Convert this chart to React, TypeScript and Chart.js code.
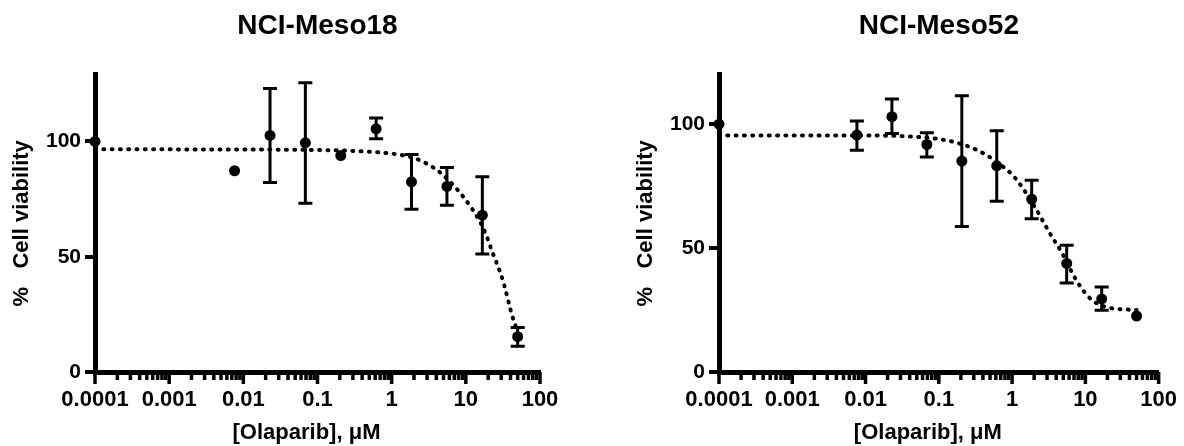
import React, { useEffect, useRef } from 'react';
import { Chart, registerables } from 'chart.js';

Chart.register(...registerables);

const FONT = '"Liberation Sans", Arial, sans-serif';

// Shared concentrations (µM), 3-fold dilutions plus the untreated control plotted at 0.0001
const concentrations = [0.0001, 0.00762, 0.0229, 0.0686, 0.206, 0.617, 1.85, 5.56, 16.7, 50];

// NCI-Meso18
const meso18Title = 'NCI-Meso18';
const meso18Viability = [100, 87.3, 102.6, 99.4, 93.9, 105.5, 82.5, 80.5, 68, 15.3];
const meso18ErrHigh = [null, null, 123, 125.5, null, 110.2, 94.3, 88.7, 84.7, 19.3];
const meso18ErrLow = [null, null, 82.2, 73.2, null, 101.2, 70.6, 72.3, 51.2, 11.2];
const meso18FitX = [0.0001, 0.01, 0.1, 0.3, 0.7, 1.3, 2, 2.8, 3.6, 4.6, 6, 7.6, 9.5, 12, 15, 18.5, 22.5, 27, 30, 33, 36, 40, 44, 48];
const meso18FitY = [96.6, 96.5, 96.3, 95.9, 95.2, 94.2, 92.8, 90.8, 88.8, 86.3, 82.8, 79.3, 75.5, 71, 66, 60, 52.5, 46, 42, 37.5, 33, 27, 22.5, 19];
const meso18YMax = 129;

// NCI-Meso52
const meso52Title = 'NCI-Meso52';
const meso52Viability = [100, 95.6, 103, 91.8, 85.1, 83.2, 69.7, 43.8, 29.5, 22.6];
const meso52ErrHigh = [null, 101.3, 110.2, 96.5, 111.5, 97.3, 77.4, 51.1, 34.3, null];
const meso52ErrLow = [null, 89.5, 96.2, 86.8, 58.7, 68.9, 61.8, 35.9, 24.9, null];
const meso52FitX = [0.0001, 0.01, 0.03, 0.1, 0.18, 0.33, 0.6, 1.1, 2, 3.2, 4.9, 7.7, 12.3, 18, 23, 50];
const meso52FitY = [95.4, 95.4, 95.2, 94, 92.4, 89.6, 85, 78.3, 67, 56.5, 47.5, 36.5, 29, 26.5, 25.7, 25];
const meso52YMax = 120;

// Axes
const xMajorTicks = [0.0001, 0.001, 0.01, 0.1, 1, 10, 100];
const xTickLabels = ['0.0001', '0.001', '0.01', '0.1', '1', '10', '100'];
const yTicks = [0, 50, 100];
const xAxisTitle = '[Olaparib], μM';
const yAxisTitle = '%   Cell viability';

function buildXTicks() {
  const out: { value: number; major: boolean }[] = [];
  xMajorTicks.forEach((d, i) => {
    out.push({ value: d, major: true });
    if (i < xMajorTicks.length - 1) {
      for (let m = 2; m <= 9; m++) out.push({ value: d * m, major: false });
    }
  });
  return out;
}

type Spec = {
  title: string;
  y: number[];
  hi: (number | null)[];
  lo: (number | null)[];
  fitX: number[];
  fitY: number[];
  yMax: number;
  padLeft: number;
  padRight: number;
};

function makeChart(canvas: HTMLCanvasElement, s: Spec) {
  const errorBars = {
    id: 'errorBars',
    afterDatasetsDraw(chart: any) {
      const { ctx } = chart;
      const xs = chart.scales.x;
      const ys = chart.scales.y;
      ctx.save();
      ctx.strokeStyle = '#000';
      ctx.lineWidth = 3;
      concentrations.forEach((c, i) => {
        const h = s.hi[i];
        const l = s.lo[i];
        if (h == null || l == null) return;
        const px = xs.getPixelForValue(c);
        const ph = ys.getPixelForValue(h);
        const pl = ys.getPixelForValue(l);
        ctx.beginPath();
        ctx.moveTo(px, ph);
        ctx.lineTo(px, pl);
        ctx.moveTo(px - 7, ph);
        ctx.lineTo(px + 7, ph);
        ctx.moveTo(px - 7, pl);
        ctx.lineTo(px + 7, pl);
        ctx.stroke();
      });
      ctx.restore();
    },
  };

  const xDecor = {
    id: 'xDecor',
    afterDraw(chart: any) {
      const { ctx, chartArea } = chart;
      const xs = chart.scales.x;
      ctx.save();
      ctx.strokeStyle = '#000';
      ctx.lineWidth = 3.5;
      xs.ticks.forEach((t: any) => {
        const px = xs.getPixelForValue(t.value);
        ctx.beginPath();
        ctx.moveTo(px, xs.top);
        ctx.lineTo(px, xs.top + (t.major ? 12 : 8));
        ctx.stroke();
      });
      ctx.fillStyle = '#000';
      ctx.font = `bold 22px ${FONT}`;
      ctx.textAlign = 'center';
      ctx.textBaseline = 'middle';
      ctx.fillText(xAxisTitle, (chartArea.left + chartArea.right) / 2 - 11, 433);
      ctx.restore();
    },
  };

  return new Chart(canvas, {
    type: 'scatter',
    data: {
      datasets: [
        {
          type: 'line',
          data: s.fitX.map((x, i) => ({ x, y: s.fitY[i] })),
          borderColor: '#000',
          borderWidth: 4,
          borderDash: [1, 7.3],
          borderCapStyle: 'round',
          pointRadius: 0,
          cubicInterpolationMode: 'monotone',
          fill: false,
          clip: false,
        } as any,
        {
          data: concentrations.map((x, i) => ({ x, y: s.y[i] })),
          pointRadius: 5.5,
          pointBackgroundColor: '#000',
          pointBorderWidth: 0,
          showLine: false,
          clip: false,
        } as any,
      ],
    },
    options: {
      animation: false,
      responsive: false,
      devicePixelRatio: 1,
      events: [],
      layout: { padding: { left: s.padLeft, right: s.padRight, top: 0, bottom: 0 } },
      plugins: {
        legend: { display: false },
        tooltip: { enabled: false },
        title: {
          display: true,
          text: s.title,
          fullSize: false,
          color: '#000',
          font: { family: FONT, size: 28, weight: 'bold' },
          padding: { top: 9, bottom: 32 },
        },
      },
      scales: {
        x: {
          type: 'logarithmic',
          min: 0.0001,
          max: 100,
          afterBuildTicks: (scale: any) => {
            scale.ticks = buildXTicks();
          },
          afterFit: (scale: any) => {
            scale.height = 74;
          },
          grid: { display: false, drawTicks: true, tickLength: 8 },
          border: { display: true, width: 5, color: '#000' },
          ticks: {
            autoSkip: false,
            maxRotation: 0,
            minRotation: 0,
            padding: 7,
            color: '#000',
            font: { family: FONT, size: 22, weight: 'bold' },
            callback: (value: any, index: number, ticks: any[]) => {
              if (!ticks[index].major) return '';
              const k = xMajorTicks.indexOf(ticks[index].value);
              return k >= 0 ? xTickLabels[k] : '';
            },
          },
          title: { display: false },
        },
        y: {
          type: 'linear',
          min: 0,
          max: s.yMax,
          afterBuildTicks: (scale: any) => {
            scale.ticks = yTicks.map((v) => ({ value: v }));
          },
          afterFit: (scale: any) => {
            scale.width = 95;
          },
          grid: {
            display: true,
            drawOnChartArea: false,
            drawTicks: true,
            tickLength: 10,
            lineWidth: 4,
            color: '#000',
          },
          border: { display: true, width: 5, color: '#000' },
          ticks: {
            padding: 4,
            color: '#000',
            font: { family: FONT, size: 21, weight: 'bold' },
            callback: (v: any) => String(v),
          },
          title: {
            display: true,
            text: yAxisTitle,
            color: '#000',
            font: { family: FONT, size: 22, weight: 'bold' },
            padding: { top: 9, bottom: 0 },
          },
        },
      },
    } as any,
    plugins: [errorBars, xDecor],
  });
}

function Panel({ spec, left }: { spec: Spec; left: number }) {
  const ref = useRef<HTMLCanvasElement | null>(null);
  useEffect(() => {
    if (!ref.current) return;
    const chart = makeChart(ref.current, spec);
    return () => chart.destroy();
  }, []);
  return (
    <canvas
      ref={ref}
      width={592}
      height={446}
      style={{ position: 'absolute', left, top: 0, width: 592, height: 446 }}
    />
  );
}

export default function App() {
  const left: Spec = {
    title: meso18Title,
    y: meso18Viability,
    hi: meso18ErrHigh,
    lo: meso18ErrLow,
    fitX: meso18FitX,
    fitY: meso18FitY,
    yMax: meso18YMax,
    padLeft: 0,
    padRight: 52,
  };
  const right: Spec = {
    title: meso52Title,
    y: meso52Viability,
    hi: meso52ErrHigh,
    lo: meso52ErrLow,
    fitX: meso52FitX,
    fitY: meso52FitY,
    yMax: meso52YMax,
    padLeft: 32,
    padRight: 21,
  };
  return (
    <div style={{ position: 'fixed', left: 0, top: 0, width: 1184, height: 446, background: '#fff' }}>
      <Panel spec={left} left={0} />
      <Panel spec={right} left={592} />
    </div>
  );
}
